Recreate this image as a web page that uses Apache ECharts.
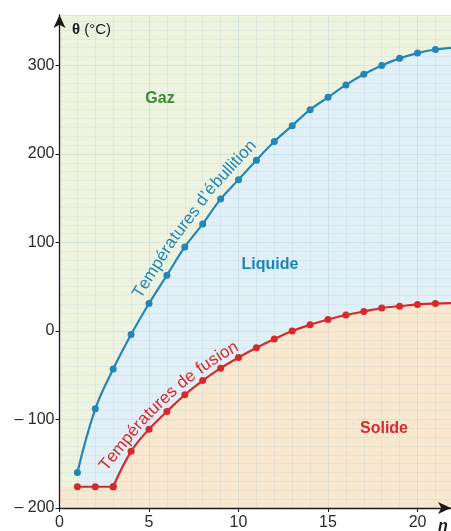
<!DOCTYPE html>
<html>
<head>
<meta charset="utf-8">
<script src="https://cdn.jsdelivr.net/npm/echarts@6/dist/echarts.min.js"></script>
<style>
html,body{margin:0;padding:0;background:#fff;}
#c{width:451px;height:531px;}
</style>
</head>
<body>
<div id="c"></div>
<script>
// Number of carbon atoms n
var nValues = [1,2,3,4,5,6,7,8,9,10,11,12,13,14,15,16,17,18,19,20,21];
// Boiling temperatures (°C)
var boilTemps = [-160,-88,-43,-4,31,63,95,121,149,171,193,214,232,250,264,278,290,300,308,314,318];
// Melting temperatures (°C)
var meltTemps = [-176,-176,-176,-136,-111,-91,-72,-56,-42,-30,-19,-9,0,7,13,18,22,26,28,30,31];
// Curves continue to the right edge of the plot (no marker there)
var edgeN = 22;
var boilEdge = 320;
var meltEdge = 31.5;
var yTicks = [-200,-100,0,100,200,300];
var xTicks = [0,5,10,15,20];

var BLUE = '#2386b8';
var RED = '#d8282c';
var GAS = '#eef3e0';
var LIQ = '#e1f0f6';
var SOL = '#f8e8d0';

var boilPairs = nValues.map(function(v,i){return [v, boilTemps[i]];});
var meltPairs = nValues.map(function(v,i){return [v, meltTemps[i]];});
var boilLine = boilPairs.concat([{value:[edgeN, boilEdge], symbol:'none'}]);
var meltFlat = meltPairs.slice(0,3);
var meltCurve = meltPairs.slice(2).concat([{value:[edgeN, meltEdge], symbol:'none'}]);
var solidFlatFill = [[0, meltTemps[0]]].concat(meltFlat);

var chart = echarts.init(document.getElementById('c'), null, {renderer:'canvas'});
var FONT = '"Liberation Sans", Arial, sans-serif';
var SM = 0.4;
var GRIDC = 'rgba(130,180,205,0.22)';
var GRIDM = 'rgba(130,180,205,0.13)';

var staticTexts = [
  {type:'text',x:72,y:30,z:10,style:{text:'{b|\u03b8} (°C)',rich:{b:{fontWeight:'bold',fontSize:15,fontFamily:FONT,fill:'#1a1a1a'}},font:'15px '+FONT,fill:'#1a1a1a',align:'left',verticalAlign:'middle'}},
  {type:'text',x:443,y:527,z:10,style:{text:'n',font:'italic bold 16px '+FONT,fill:'#1a1a1a',align:'center',verticalAlign:'middle'}},
  {type:'text',x:160,y:99,z:10,style:{text:'Gaz',font:'bold 16px '+FONT,fill:'#3a8a33',align:'center',verticalAlign:'middle'}},
  {type:'text',x:270,y:265,z:10,style:{text:'Liquide',font:'bold 16px '+FONT,fill:'#1d84b6',align:'center',verticalAlign:'middle'}},
  {type:'text',x:384,y:429,z:10,style:{text:'Solide',font:'bold 16px '+FONT,fill:'#d8282c',align:'center',verticalAlign:'middle'}}
];

chart.setOption({
  animation:false,
  grid:{left:59.5,right:0,top:15,bottom:19,show:true,borderWidth:0,backgroundColor:GAS},
  xAxis:{
    type:'value',min:0,max:21.87,interval:5,z:3,
    axisLine:{show:true,onZero:false,symbol:['none','arrow'],symbolSize:[9,13],lineStyle:{color:'#1a1a1a',width:1.3}},
    axisTick:{show:true,length:4,lineStyle:{color:'#1a1a1a'}},
    axisLabel:{margin:7,fontSize:16,color:'#2a2a2a',fontFamily:FONT,showMaxLabel:false,
      formatter:function(v){return xTicks.indexOf(v)>=0?String(v):'';}},
    splitLine:{show:true,lineStyle:{color:GRIDC,width:1}},
    minorTick:{show:false,splitNumber:5},
    minorSplitLine:{show:true,lineStyle:{color:GRIDM,width:1}}
  },
  yAxis:{
    type:'value',min:-200,max:357,interval:100,z:3,
    axisLine:{show:true,onZero:false,symbol:['none','arrow'],symbolSize:[9,13],lineStyle:{color:'#1a1a1a',width:1.3}},
    axisTick:{show:true,length:4,lineStyle:{color:'#1a1a1a'}},
    axisLabel:{margin:5,fontSize:16,color:'#2a2a2a',fontFamily:FONT,showMaxLabel:false,
      formatter:function(v){ if(yTicks.indexOf(v)<0) return ''; return v<0?('\u2013 '+Math.abs(v)):String(v);}},
    splitLine:{show:true,lineStyle:{color:GRIDC,width:1}},
    minorTick:{show:false,splitNumber:10},
    minorSplitLine:{show:true,lineStyle:{color:GRIDM,width:1}}
  },
  series:[
    {type:'line',data:boilLine,smooth:SM,symbol:'none',z:1,silent:true,
      lineStyle:{width:0},areaStyle:{color:LIQ,opacity:1,origin:'start'}},
    {type:'line',data:solidFlatFill,smooth:false,symbol:'none',z:1,silent:true,
      lineStyle:{width:0},areaStyle:{color:SOL,opacity:1,origin:'start'}},
    {type:'line',data:meltCurve,smooth:SM,symbol:'none',z:1,silent:true,
      lineStyle:{width:0},areaStyle:{color:SOL,opacity:1,origin:'start'}},
    {type:'line',data:boilLine,smooth:SM,symbol:'circle',symbolSize:7,z:5,
      lineStyle:{color:BLUE,width:2.2},itemStyle:{color:BLUE}},
    {type:'line',data:meltFlat,smooth:false,symbol:'circle',symbolSize:7,z:5,
      lineStyle:{color:RED,width:2.2},itemStyle:{color:RED}},
    {type:'line',data:meltCurve,smooth:SM,symbol:'circle',symbolSize:7,z:5,
      lineStyle:{color:RED,width:2.2},itemStyle:{color:RED}}
  ],
  graphic:staticTexts
});

// Text that follows a curve (placed character by character beside the data curve)
var measureCtx = document.createElement('canvas').getContext('2d');
function curvedText(str, xs, ys, centerN, offset, font, color){
  var pts = xs.map(function(x,i){return chart.convertToPixel({gridIndex:0},[x,ys[i]]);});
  var cum = [0];
  for (var i=1;i<pts.length;i++){
    cum.push(cum[i-1]+Math.hypot(pts[i][0]-pts[i-1][0], pts[i][1]-pts[i-1][1]));
  }
  var L = cum[cum.length-1];
  function at(s){
    var a,b,t;
    if (s<=0){ a=pts[0]; b=pts[1]; t=s/(cum[1]); return [a[0]+(b[0]-a[0])*t, a[1]+(b[1]-a[1])*t]; }
    if (s>=L){ var k=pts.length-1; a=pts[k-1]; b=pts[k]; t=(s-cum[k-1])/(cum[k]-cum[k-1]); return [a[0]+(b[0]-a[0])*t, a[1]+(b[1]-a[1])*t]; }
    for (var j=0;j<pts.length-1;j++){
      if (s<=cum[j+1]){ a=pts[j]; b=pts[j+1]; t=(s-cum[j])/(cum[j+1]-cum[j]); return [a[0]+(b[0]-a[0])*t, a[1]+(b[1]-a[1])*t]; }
    }
    return pts[pts.length-1];
  }
  var centerS = 0;
  for (var j=0;j<xs.length-1;j++){
    if (centerN>=xs[j] && centerN<=xs[j+1]){ centerS = cum[j]+(cum[j+1]-cum[j])*(centerN-xs[j])/(xs[j+1]-xs[j]); break; }
  }
  measureCtx.font = font;
  var chars = Array.from(str);
  var widths = chars.map(function(c){return measureCtx.measureText(c).width;});
  var W = widths.reduce(function(a,b){return a+b;},0);
  var s = centerS - W/2;
  var out = [];
  chars.forEach(function(c,i){
    var m = s + widths[i]/2;
    var p = at(m), p1 = at(m-9), p2 = at(m+9);
    var tx = p2[0]-p1[0], ty = p2[1]-p1[1], tl = Math.hypot(tx,ty); tx/=tl; ty/=tl;
    var nx = ty, ny = -tx;
    out.push({type:'text', x:p[0]+nx*offset, y:p[1]+ny*offset, rotation:-Math.atan2(ty,tx), z:10,
      style:{text:c, font:font, fill:color, align:'center', verticalAlign:'middle'}});
    s += widths[i];
  });
  return out;
}

var boilText = curvedText('Températures d\u2019ébullition', nValues, boilTemps, 7.95, 14, '17px '+FONT, BLUE);
var meltText = curvedText('Températures de fusion', nValues.slice(3), meltTemps.slice(3), 6.2, 11, '17px '+FONT, RED);
chart.setOption({graphic: staticTexts.concat(boilText, meltText)});
</script>
</body>
</html>
